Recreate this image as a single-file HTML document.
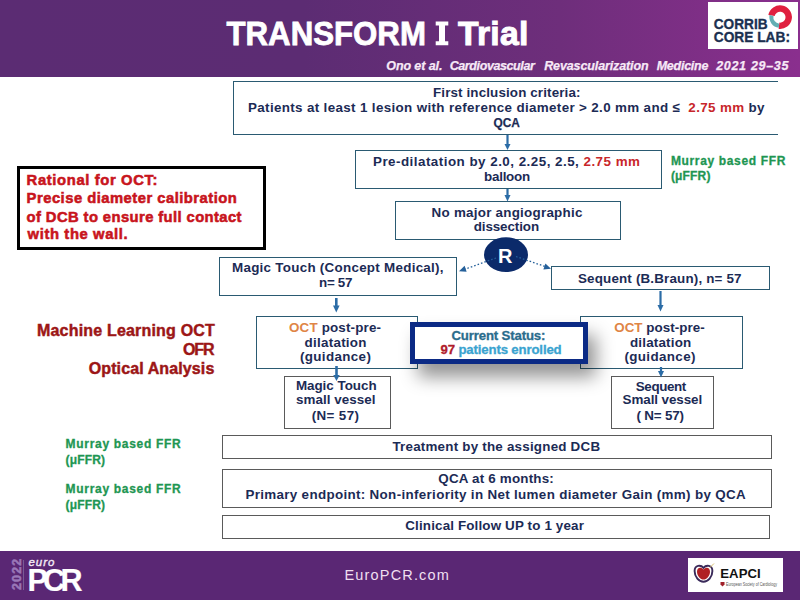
<!DOCTYPE html>
<html><head><meta charset="utf-8">
<style>
*{margin:0;padding:0;box-sizing:border-box}
html,body{width:800px;height:600px;overflow:hidden;background:#fff}
body{position:relative;font-family:"Liberation Sans",sans-serif}
.a{position:absolute}
.ov{position:absolute;left:0;top:0}
#hdr{left:0;top:0;width:800px;height:77px;background:linear-gradient(to right,#5b2c73 0%,#5c2c73 38%,#6e2e7b 70%,#8a2f8e 100%)}
#logo{left:708px;top:2px;width:90px;height:47px;background:#fff}
.bx{position:absolute;border:1.3px solid #2a5a72;background:#fff}
.gb{position:absolute;border:1.3px solid #5a5a5a;background:#fff}
#ftr{left:0;top:551px;width:800px;height:49px;background:#5a2774}
#eap{left:688px;top:558px;width:95px;height:34px;background:#fff}
</style></head><body>
<div id="hdr" class="a"></div>
<div id="logo" class="a"></div>

<div class="bx" style="left:233px;top:81px;width:545px;height:54px;border-right:none"></div>
<div class="bx" style="left:355px;top:150px;width:307px;height:39px"></div>
<div class="bx" style="left:395px;top:201px;width:226px;height:39px"></div>
<div class="a" style="left:17px;top:166px;width:249px;height:84px;border:3px solid #000"></div>
<div class="bx" style="left:219px;top:257px;width:238px;height:39px"></div>
<div class="bx" style="left:551px;top:266px;width:219px;height:24px"></div>
<div class="bx" style="left:256px;top:316px;width:162px;height:53px"></div>
<div class="bx" style="left:580px;top:316px;width:163px;height:53px"></div>
<div class="gb" style="left:284px;top:376px;width:107px;height:53px"></div>
<div class="gb" style="left:611px;top:376px;width:103px;height:53px"></div>
<div class="a" style="left:410px;top:322px;width:178px;height:42px;border:5px solid #0b2a85;background:#fff;box-shadow:8px 13px 18px rgba(0,0,0,0.42)"></div>
<div class="gb" style="left:222px;top:435px;width:550px;height:24px"></div>
<div class="gb" style="left:222px;top:469px;width:550px;height:39px"></div>
<div class="gb" style="left:222px;top:515px;width:548px;height:24px"></div>
<div id="ftr" class="a"></div>
<div id="eap" class="a"></div>
<svg class="ov" width="800" height="600" viewBox="0 0 800 600">
 <g fill="#2b6ca6" stroke="#2b6ca6">
  <line x1="507.5" y1="135" x2="507.5" y2="145" stroke-width="2.2"/><path d="M504.5 144 L510.5 144 L507.5 150 Z" stroke="none"/>
  <line x1="507.5" y1="189" x2="507.5" y2="196" stroke-width="2.2"/><path d="M504.5 195 L510.5 195 L507.5 201.5 Z" stroke="none"/>
  <line x1="336.3" y1="298" x2="336.3" y2="307" stroke-width="2.6"/><path d="M333 305.5 L339.6 305.5 L336.3 312.5 Z" stroke="none"/>
  <line x1="660.5" y1="291" x2="660.5" y2="306" stroke-width="2.2"/><path d="M657.5 305 L663.5 305 L660.5 311.5 Z" stroke="none"/>
  <line x1="336.5" y1="366" x2="336.5" y2="376" stroke-width="2.6"/><path d="M333.3 375 L339.7 375 L336.5 381 Z" stroke="none"/>
  <line x1="661" y1="367" x2="661" y2="372" stroke-width="2.2"/><path d="M658 371 L664 371 L661 377.5 Z" stroke="none"/>
 </g>
 <path d="M435.7 21.5 H448.3 V25.6 H445 V41.2 H448.3 V45.3 H435.7 V41.2 H439 V25.6 H435.7 Z" fill="#fff"/>
 <ellipse cx="506" cy="254.7" rx="22" ry="17.4" fill="#0b2a6a"/>
 <g fill="#25609a" stroke="#25609a">
  <line x1="496" y1="258" x2="464" y2="269.5" stroke-width="1.3" stroke-dasharray="1.6 2"/>
  <path d="M459 271.2 L464.6 265.8 L466.6 271.8 Z" stroke="none"/>
  <line x1="516" y1="256.5" x2="545" y2="266.5" stroke-width="1.3" stroke-dasharray="1.6 2"/>
  <path d="M551 268.7 L545.4 263.5 L543.4 269.4 Z" stroke="none"/>
 </g>
 <!-- corrib ring -->
 <path d="M771.5 15.5 A8.7 8.7 0 1 1 779 25.8" fill="none" stroke="#e0203f" stroke-width="6.4"/>
 <path d="M779 25.8 A8.7 8.7 0 0 1 771.5 15.5" fill="none" stroke="#63afb3" stroke-width="4"/>
 <!-- europcr logo -->
 <line x1="23.5" y1="560" x2="23.5" y2="590" stroke="#7a5a94" stroke-width="1"/>
 <text transform="translate(21.2,590) rotate(-90)" fill="#9a78b8" style="font-family:'Liberation Sans';font-weight:bold;font-size:12.6px;letter-spacing:1.1px" stroke="#9a78b8" stroke-width="0.5">2022</text>
 <!-- eapci heart -->
 <path d="M703.5 567.8 C701 564.8 694.6 564.6 694.6 571 C694.6 577 699 581.8 703.5 581.8 C708 581.8 712.4 577 712.4 571 C712.4 564.6 706 564.8 703.5 567.8 Z" fill="#fff" stroke="#3a2a5a" stroke-width="1.9"/>
 <path d="M703.5 569.6 C701.5 567 697 566.8 697 571.8 C697 576 700.5 579.6 703.5 579.6 C706.5 579.6 710 576 710 571.8 C710 566.8 705.5 567 703.5 569.6 Z" fill="#b02024"/>
 <line x1="710" y1="567.5" x2="714" y2="563.5" stroke="#d8c070" stroke-width="1"/>
 <path d="M720.5 582 h4 v2.5 l-2 2 l-2 -2 Z" fill="#a0202a"/>
 <text x="726" y="585.5" fill="#555" textLength="51" lengthAdjust="spacingAndGlyphs" style="font-family:'Liberation Sans';font-size:5.2px">European Society of Cardiology</text>
</svg>
<svg class="ov" width="800" height="600" viewBox="0 0 800 600" style="font-family:'Liberation Sans',sans-serif;white-space:pre">
<text x="226.50" y="45.00" fill="#ffffff" stroke="#ffffff" stroke-width="0.8" textLength="199.41" lengthAdjust="spacingAndGlyphs" style="font-size:33.7px;font-weight:bold;font-style:normal">TRANSFORM</text>
<text x="458.00" y="45.00" fill="#ffffff" stroke="#ffffff" stroke-width="1.0" style="font-size:33.7px;font-weight:bold;font-style:normal;letter-spacing:0.269px">Trial</text>
<text x="386.25" y="69.60" fill="#f7e9f7" stroke="#f7e9f7" stroke-width="0.25" style="font-size:12.5px;font-weight:bold;font-style:italic;letter-spacing:-0.092px">Ono et al.</text>
<text x="449.70" y="69.60" fill="#f7e9f7" stroke="#f7e9f7" stroke-width="0.25" style="font-size:12.5px;font-weight:bold;font-style:italic;letter-spacing:-0.397px">Cardiovascular</text>
<text x="544.20" y="69.60" fill="#f7e9f7" stroke="#f7e9f7" stroke-width="0.25" style="font-size:12.5px;font-weight:bold;font-style:italic;letter-spacing:-0.116px">Revascularization</text>
<text x="656.70" y="69.60" fill="#f7e9f7" stroke="#f7e9f7" stroke-width="0.25" style="font-size:12.5px;font-weight:bold;font-style:italic;letter-spacing:-0.248px">Medicine</text>
<text x="716.20" y="69.60" fill="#f7e9f7" stroke="#f7e9f7" stroke-width="0.25" style="font-size:12.5px;font-weight:bold;font-style:italic;letter-spacing:0.690px">2021 29–35</text>
<text x="433.00" y="96.50" fill="#1c2b55" style="font-size:13.4px;font-weight:bold;font-style:normal;letter-spacing:0.129px">First inclusion criteria:</text>
<text x="248.00" y="111.80" fill="#1c2b55" style="font-size:13.4px;font-weight:bold;font-style:normal;letter-spacing:0.348px">Patients at least 1 lesion with reference diameter &gt; 2.0 mm and ≤&#160; <tspan fill="#c8262a">2.75 mm</tspan> by</text>
<text x="493.50" y="127.40" fill="#1c2b55" stroke="#1c2b55" stroke-width="0.25" textLength="26.46" lengthAdjust="spacingAndGlyphs" style="font-size:13.4px;font-weight:bold;font-style:normal">QCA</text>
<text x="373.00" y="165.60" fill="#1c2b55" style="font-size:13.4px;font-weight:bold;font-style:normal;letter-spacing:0.477px">Pre-dilatation by 2.0, 2.25, 2.5, <tspan fill="#c8262a">2.75 mm</tspan></text>
<text x="484.00" y="181.00" fill="#1c2b55" style="font-size:13.4px;font-weight:bold;font-style:normal;letter-spacing:-0.238px">balloon</text>
<text x="670.90" y="164.90" fill="#1e9652" stroke="#1e9652" stroke-width="0.3" style="font-size:12px;font-weight:bold;font-style:normal;letter-spacing:0.652px">Murray based FFR</text>
<text x="670.90" y="179.60" fill="#1e9652" stroke="#1e9652" stroke-width="0.3" style="font-size:12px;font-weight:bold;font-style:normal;letter-spacing:0.167px">(μFFR)</text>
<text x="431.60" y="217.00" fill="#1c2b55" style="font-size:13.4px;font-weight:bold;font-style:normal;letter-spacing:0.246px">No major angiographic</text>
<text x="473.70" y="230.90" fill="#1c2b55" style="font-size:13.4px;font-weight:bold;font-style:normal;letter-spacing:-0.094px">dissection</text>
<text x="232.00" y="272.00" fill="#1c2b55" style="font-size:13.4px;font-weight:bold;font-style:normal;letter-spacing:0.273px">Magic Touch (Concept Medical),</text>
<text x="319.00" y="286.60" fill="#1c2b55" style="font-size:13.4px;font-weight:bold;font-style:normal;letter-spacing:-0.292px">n= 57</text>
<text x="578.00" y="282.80" fill="#1c2b55" style="font-size:13.4px;font-weight:bold;font-style:normal;letter-spacing:0.167px">Sequent (B.Braun), n= 57</text>
<text x="289.00" y="332.00" fill="#1c2b55" style="font-size:13.4px;font-weight:bold;font-style:normal;letter-spacing:0.163px"><tspan fill="#df8546">OCT</tspan> post-pre-</text>
<text x="304.60" y="346.80" fill="#1c2b55" style="font-size:13.4px;font-weight:bold;font-style:normal;letter-spacing:0.263px">dilatation</text>
<text x="300.00" y="361.00" fill="#1c2b55" style="font-size:13.4px;font-weight:bold;font-style:normal;letter-spacing:0.351px">(guidance)</text>
<text x="614.20" y="332.00" fill="#1c2b55" style="font-size:13.4px;font-weight:bold;font-style:normal;letter-spacing:0.038px"><tspan fill="#df8546">OCT</tspan> post-pre-</text>
<text x="630.00" y="346.80" fill="#1c2b55" style="font-size:13.4px;font-weight:bold;font-style:normal;letter-spacing:0.185px">dilatation</text>
<text x="624.40" y="361.00" fill="#1c2b55" style="font-size:13.4px;font-weight:bold;font-style:normal;letter-spacing:0.373px">(guidance)</text>
<text x="295.90" y="390.40" fill="#1c2b55" style="font-size:13.4px;font-weight:bold;font-style:normal;letter-spacing:-0.016px">Magic Touch</text>
<text x="296.00" y="404.40" fill="#1c2b55" style="font-size:13.4px;font-weight:bold;font-style:normal;letter-spacing:0.046px">small vessel</text>
<text x="311.70" y="420.30" fill="#1c2b55" style="font-size:13.4px;font-weight:bold;font-style:normal;letter-spacing:0.373px">(N= 57)</text>
<text x="635.80" y="390.60" fill="#1c2b55" style="font-size:13.4px;font-weight:bold;font-style:normal;letter-spacing:-0.394px">Sequent</text>
<text x="622.60" y="404.40" fill="#1c2b55" style="font-size:13.4px;font-weight:bold;font-style:normal;letter-spacing:-0.080px">Small vessel</text>
<text x="636.50" y="420.30" fill="#1c2b55" style="font-size:13.4px;font-weight:bold;font-style:normal;letter-spacing:-0.184px">( N= 57)</text>
<text x="451.50" y="339.90" fill="#2a6c8c" stroke="#2a6c8c" stroke-width="0.3" style="font-size:13.2px;font-weight:bold;font-style:normal;letter-spacing:-0.149px">Current Status:</text>
<text x="440.50" y="354.30" fill="#3aa3d0" stroke="#3aa3d0" stroke-width="0.3" style="font-size:13.2px;font-weight:bold;font-style:normal;letter-spacing:-0.142px"><tspan fill="#b01c2c" stroke="#b01c2c">97</tspan> patients enrolled</text>
<text x="37.00" y="335.60" fill="#9c1616" stroke="#9c1616" stroke-width="0.45" style="font-size:16px;font-weight:bold;font-style:normal;letter-spacing:0.186px">Machine Learning OCT</text>
<text x="183.00" y="354.60" fill="#9c1616" stroke="#9c1616" stroke-width="0.45" style="font-size:16px;font-weight:bold;font-style:normal;letter-spacing:-1.109px">OFR</text>
<text x="88.70" y="373.60" fill="#9c1616" stroke="#9c1616" stroke-width="0.45" style="font-size:16px;font-weight:bold;font-style:normal;letter-spacing:0.114px">Optical Analysis</text>
<text x="26.60" y="185.10" fill="#c8141c" stroke="#c8141c" stroke-width="0.55" style="font-size:14.8px;font-weight:bold;font-style:normal;letter-spacing:0.631px">Rational for OCT:</text>
<text x="26.60" y="202.80" fill="#c8141c" stroke="#c8141c" stroke-width="0.55" style="font-size:14.8px;font-weight:bold;font-style:normal;letter-spacing:0.476px">Precise diameter calibration</text>
<text x="26.60" y="221.50" fill="#c8141c" stroke="#c8141c" stroke-width="0.55" style="font-size:14.8px;font-weight:bold;font-style:normal;letter-spacing:0.395px">of DCB to ensure full contact</text>
<text x="27.60" y="239.20" fill="#c8141c" stroke="#c8141c" stroke-width="0.55" style="font-size:14.8px;font-weight:bold;font-style:normal;letter-spacing:0.610px">with the wall.</text>
<text x="65.60" y="448.00" fill="#1e9652" stroke="#1e9652" stroke-width="0.3" style="font-size:12px;font-weight:bold;font-style:normal;letter-spacing:0.692px">Murray based FFR</text>
<text x="65.60" y="464.00" fill="#1e9652" stroke="#1e9652" stroke-width="0.3" style="font-size:12px;font-weight:bold;font-style:normal;letter-spacing:0.167px">(μFFR)</text>
<text x="65.60" y="492.60" fill="#1e9652" stroke="#1e9652" stroke-width="0.3" style="font-size:12px;font-weight:bold;font-style:normal;letter-spacing:0.692px">Murray based FFR</text>
<text x="65.60" y="508.60" fill="#1e9652" stroke="#1e9652" stroke-width="0.3" style="font-size:12px;font-weight:bold;font-style:normal;letter-spacing:0.167px">(μFFR)</text>
<text x="392.40" y="450.50" fill="#1c2b55" style="font-size:13.4px;font-weight:bold;font-style:normal;letter-spacing:0.215px">Treatment by the assigned DCB</text>
<text x="438.30" y="483.10" fill="#1c2b55" style="font-size:13.4px;font-weight:bold;font-style:normal;letter-spacing:0.192px">QCA at 6 months:</text>
<text x="245.40" y="498.50" fill="#1c2b55" style="font-size:13.4px;font-weight:bold;font-style:normal;letter-spacing:0.329px">Primary endpoint: Non-inferiority in Net lumen diameter Gain (mm) by QCA</text>
<text x="405.30" y="530.40" fill="#1c2b55" style="font-size:13.4px;font-weight:bold;font-style:normal;letter-spacing:0.146px">Clinical Follow UP to 1 year</text>
<text x="498.00" y="262.50" fill="#ffffff" style="font-size:20px;font-weight:bold;font-style:normal;letter-spacing:0.000px">R</text>
<text x="713.75" y="29.40" fill="#1b3050" stroke="#1b3050" stroke-width="0.35" textLength="53.85" lengthAdjust="spacingAndGlyphs" style="font-size:15.4px;font-weight:bold;font-style:normal">CORRIB</text>
<text x="713.75" y="41.90" fill="#1b3050" stroke="#1b3050" stroke-width="0.35" textLength="76.25" lengthAdjust="spacingAndGlyphs" style="font-size:15.4px;font-weight:bold;font-style:normal">CORE LAB:</text>
<text x="720.20" y="577.70" fill="#111111" style="font-size:13.2px;font-weight:bold;font-style:normal;letter-spacing:0.065px">EAPCI</text>
<text x="28.50" y="565.60" fill="#f4eaf6" stroke="#f4eaf6" stroke-width="0.35" style="font-size:11.5px;font-weight:normal;font-style:italic;letter-spacing:0.960px">euro</text>
<text x="27.40" y="591.25" fill="#ffffff" stroke="#ffffff" stroke-width="0.2" style="font-size:30.5px;font-weight:bold;font-style:normal;letter-spacing:-4.635px">PCR</text>
<text x="344.50" y="579.50" fill="#efdff0" style="font-size:14.5px;font-weight:normal;font-style:normal;letter-spacing:1.166px">EuroPCR.com</text>
</svg>
</body></html>
